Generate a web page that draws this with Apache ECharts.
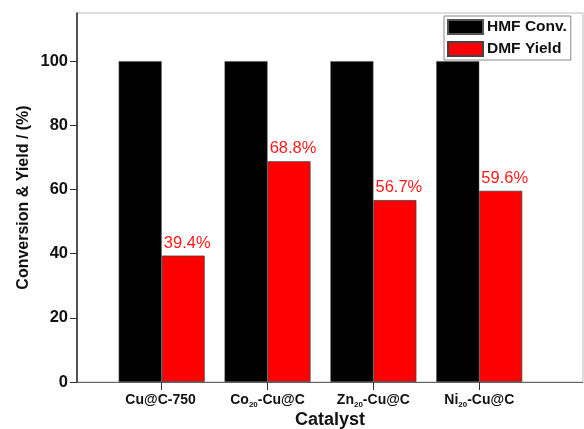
<!DOCTYPE html>
<html>
<head>
<meta charset="utf-8">
<script src="https://cdn.jsdelivr.net/npm/echarts@6/dist/echarts.min.js"></script>
<style>html,body{margin:0;padding:0;background:#fff}#c{width:584px;height:429px}</style>
</head>
<body>
<div id="c"></div>
<script>
var categories = ['Cu@C-750', 'Co20-Cu@C', 'Zn20-Cu@C', 'Ni20-Cu@C'];
var hmfConv = [100, 100, 100, 100];
var dmfYield = [39.4, 68.8, 56.7, 59.6];
var yTicks = [0, 20, 40, 60, 80, 100];
var seriesNames = ['HMF Conv.', 'DMF Yield'];

var positions = categories.map(function (c, i) { return i + 1; });
function fmtCat(v) {
  var name = categories[Math.round(v) - 1];
  if (!name) return '';
  var m = name.match(/^([A-Z][a-z])(\d+)(.*)$/);
  if (m) return '{a|' + m[1] + '}{s|' + m[2] + '}{a|' + m[3] + '}';
  return '{a|' + name + '}{s| }';
}

var chart = echarts.init(document.getElementById('c'), null, { renderer: 'canvas' });
chart.setOption({
  animation: false,
  backgroundColor: '#fff',
  textStyle: { fontFamily: 'Liberation Sans, Arial, sans-serif' },
  grid: {
    left: 77, top: 13, right: 1, bottom: 47,
    containLabel: false, outerBoundsMode: 'none',
    show: true, borderColor: '#bbb', borderWidth: 1, backgroundColor: 'transparent'
  },
  legend: {
    orient: 'vertical',
    left: 444, top: 16,
    padding: [3, 4, 3, 3],
    icon: 'rect',
    itemWidth: 35, itemHeight: 14, itemGap: 6,
    borderColor: '#888', borderWidth: 1,
    backgroundColor: '#fff',
    data: seriesNames,
    textStyle: { fontSize: 15.5, fontWeight: 'bold', color: '#111', lineHeight: 14, padding: [0, 0, 0, -1] }
  },
  xAxis: {
    type: 'value', min: 0.2, max: 4.98,
    name: 'Catalyst', nameLocation: 'middle', nameGap: 29, nameMoveOverlap: false,
    nameTextStyle: { fontSize: 18, fontWeight: 'bold', color: '#111' },
    splitLine: { show: false },
    axisLine: { show: true, lineStyle: { color: '#666', width: 1 } },
    axisTick: { show: true, customValues: positions, length: 8, inside: false, lineStyle: { color: '#333', width: 1 } },
    axisLabel: {
      customValues: positions, margin: 10,
      formatter: fmtCat,
      rich: {
        a: { fontSize: 14, fontWeight: 'bold', color: '#111', lineHeight: 16 },
        s: { fontSize: 8, fontWeight: 'bold', color: '#111', lineHeight: 16, padding: [10, 0, 0, 0] }
      }
    }
  },
  yAxis: {
    type: 'value', min: 0, max: 115,
    name: 'Conversion & Yield / (%)', nameLocation: 'middle', nameGap: 45, nameMoveOverlap: false,
    nameTextStyle: { fontSize: 16, fontWeight: 'bold', color: '#111' },
    splitLine: { show: false },
    axisLine: { show: true, lineStyle: { color: '#222', width: 1.5 } },
    axisTick: { show: true, customValues: yTicks, length: 7, lineStyle: { color: '#333', width: 1 } },
    axisLabel: { customValues: yTicks, fontSize: 16.5, fontWeight: 'bold', color: '#111', margin: 9 }
  },
  series: [
    {
      name: seriesNames[0], type: 'bar', barWidth: 43, barGap: '0%',
      itemStyle: { color: '#000', borderColor: '#555', borderWidth: 0.5 },
      data: positions.map(function (p, i) { return [p, hmfConv[i]]; })
    },
    {
      name: seriesNames[1], type: 'bar', barWidth: 43, barGap: '0%',
      itemStyle: { color: '#ff0000', borderColor: '#444', borderWidth: 0.8 },
      label: {
        show: true, position: 'top', distance: 4, offset: [4, 0],
        color: '#ff1a1a', fontSize: 16.5,
        formatter: function (p) { return p.value[1].toFixed(1) + '%'; }
      },
      data: positions.map(function (p, i) { return [p, dmfYield[i]]; })
    }
  ]
});
</script>
</body>
</html>
